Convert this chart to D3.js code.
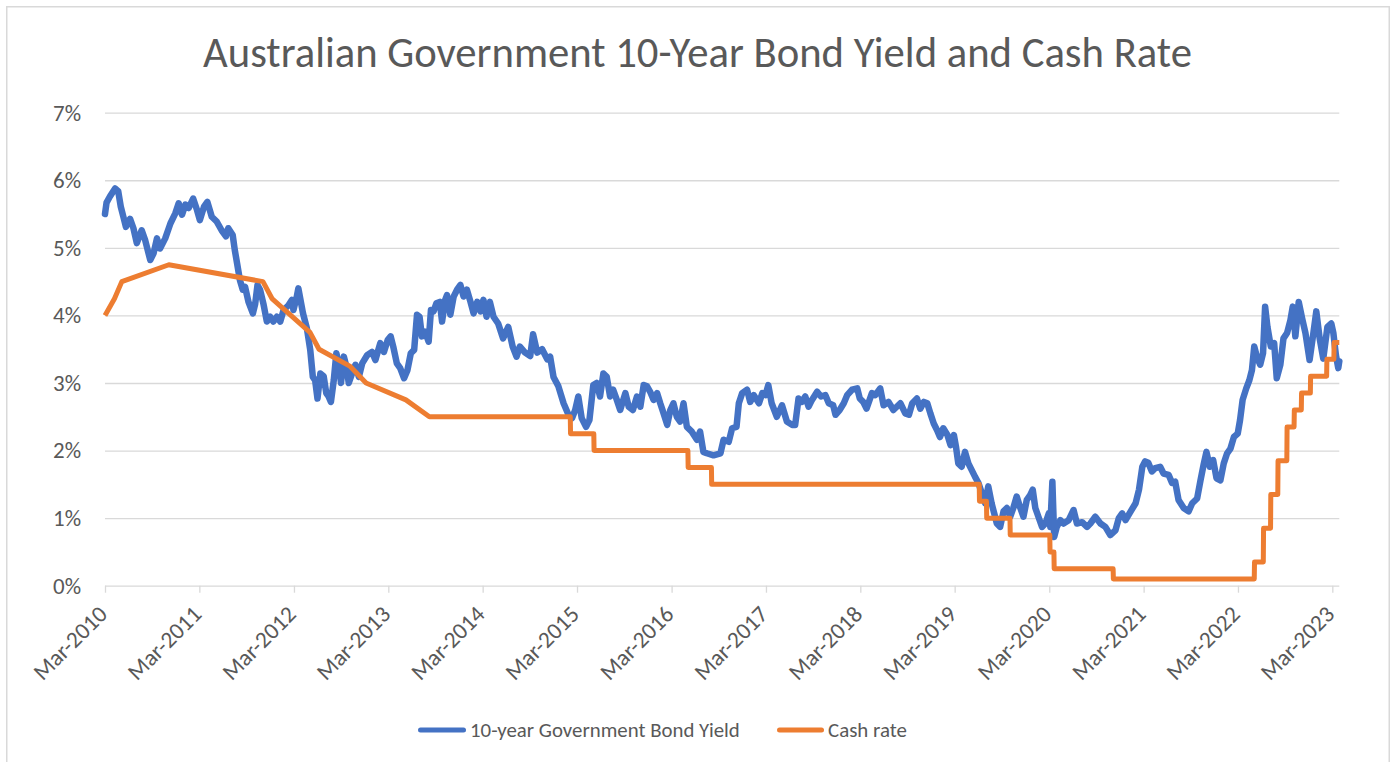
<!DOCTYPE html>
<html>
<head>
<meta charset="utf-8">
<script src="https://cdn.jsdelivr.net/npm/d3@7"></script>
<style>
  body { margin: 0; background: #fff; }
  svg { display: block; }
  text { font-family: Calibri, Carlito, Lato, "Open Sans", sans-serif; fill: #595959; }
</style>
</head>
<body>
<svg id="chart" width="1393" height="762"></svg>
<script>
// ---- data -------------------------------------------------------------
const chartTitle = "Australian Government 10-Year Bond Yield and Cash Rate";
const seriesNames = ["10-year Government Bond Yield", "Cash rate"];
const seriesColors = ["#4472C4", "#ED7D31"];

// 10-year government bond yield (%)
const bondDates = [
  "2010-03-01","2010-03-07","2010-03-20","2010-04-09","2010-04-21","2010-05-01","2010-05-11","2010-05-21","2010-06-06","2010-06-19",
  "2010-07-02","2010-07-21","2010-08-03","2010-08-23","2010-09-05","2010-09-18","2010-09-30","2010-10-20","2010-11-09","2010-11-28",
  "2010-12-11","2010-12-24","2011-01-06","2011-01-19","2011-02-05","2011-02-20","2011-03-03","2011-03-19","2011-04-01","2011-04-18",
  "2011-05-07","2011-05-26","2011-06-12","2011-06-21","2011-07-08","2011-07-16","2011-07-25","2011-08-05","2011-08-16","2011-08-25",
  "2011-09-07","2011-09-24","2011-10-03","2011-10-12","2011-10-22","2011-11-04","2011-11-17","2011-11-30","2011-12-12","2011-12-26",
  "2012-01-08","2012-01-21","2012-02-09","2012-02-22","2012-02-28","2012-03-12","2012-03-18","2012-04-05","2012-04-20","2012-05-03",
  "2012-05-13","2012-05-22","2012-05-31","2012-06-11","2012-06-24","2012-07-04","2012-07-13","2012-07-22","2012-08-02","2012-08-12",
  "2012-08-21","2012-08-30","2012-09-10","2012-09-20","2012-09-29","2012-10-12","2012-10-25","2012-11-07","2012-11-20","2012-12-09",
  "2012-12-28","2013-01-10","2013-01-29","2013-02-12","2013-02-27","2013-03-10","2013-03-20","2013-04-03","2013-04-16","2013-05-01",
  "2013-05-14","2013-05-27","2013-06-09","2013-06-20","2013-06-30","2013-07-09","2013-07-21","2013-08-04","2013-08-13","2013-08-23",
  "2013-09-03","2013-09-16","2013-09-25","2013-10-07","2013-10-14","2013-10-27","2013-11-09","2013-11-22","2013-12-05","2013-12-17",
  "2013-12-30","2014-01-13","2014-01-25","2014-02-08","2014-02-21","2014-03-04","2014-03-16","2014-03-29","2014-04-12","2014-04-30",
  "2014-05-19","2014-06-08","2014-06-25","2014-07-10","2014-07-23","2014-08-12","2014-09-01","2014-09-12","2014-09-28","2014-10-17",
  "2014-11-06","2014-11-17","2014-11-30","2014-12-19","2015-01-08","2015-01-27","2015-02-10","2015-02-22","2015-03-06","2015-03-19",
  "2015-04-05","2015-04-18","2015-05-03","2015-05-16","2015-05-29","2015-06-11","2015-06-24","2015-07-07","2015-07-19","2015-08-02",
  "2015-08-15","2015-09-04","2015-09-17","2015-10-03","2015-10-19","2015-11-01","2015-11-14","2015-11-27","2015-12-09","2015-12-22",
  "2016-01-05","2016-01-17","2016-01-30","2016-02-13","2016-02-25","2016-03-08","2016-03-21","2016-04-03","2016-04-16","2016-04-29",
  "2016-05-18","2016-06-07","2016-06-19","2016-07-02","2016-07-15","2016-08-10","2016-09-06","2016-09-18","2016-10-08","2016-10-21",
  "2016-11-07","2016-11-16","2016-11-29","2016-12-18","2016-12-30","2017-01-13","2017-02-02","2017-02-15","2017-02-27","2017-03-10",
  "2017-03-23","2017-04-12","2017-05-02","2017-05-21","2017-06-10","2017-06-22","2017-07-05","2017-07-18","2017-07-31","2017-08-13",
  "2017-08-26","2017-09-15","2017-09-30","2017-10-17","2017-10-30","2017-11-16","2017-11-25","2017-12-11","2017-12-27","2018-01-09",
  "2018-01-28","2018-02-17","2018-02-27","2018-03-12","2018-03-25","2018-04-15","2018-04-28","2018-05-17","2018-05-30","2018-06-18",
  "2018-07-07","2018-08-03","2018-08-22","2018-09-05","2018-09-18","2018-10-06","2018-10-19","2018-11-02","2018-11-15","2018-11-27",
  "2018-12-10","2018-12-23","2019-01-03","2019-01-16","2019-02-01","2019-02-13","2019-02-26","2019-03-06","2019-03-15","2019-03-28",
  "2019-04-10","2019-04-23","2019-05-06","2019-05-19","2019-06-01","2019-06-14","2019-06-27","2019-07-09","2019-07-22","2019-08-01",
  "2019-08-11","2019-08-24","2019-09-06","2019-09-19","2019-10-02","2019-10-14","2019-10-27","2019-11-10","2019-11-22","2019-12-05",
  "2019-12-18","2019-12-28","2020-01-07","2020-01-19","2020-02-02","2020-02-15","2020-02-28","2020-03-05","2020-03-13","2020-03-20",
  "2020-03-30","2020-04-13","2020-04-25","2020-05-15","2020-06-03","2020-06-16","2020-07-06","2020-07-25","2020-08-07","2020-08-26",
  "2020-09-15","2020-10-04","2020-10-23","2020-11-12","2020-11-25","2020-12-08","2020-12-21","2021-01-10","2021-01-29","2021-02-11",
  "2021-02-24","2021-03-07","2021-03-19","2021-04-02","2021-04-15","2021-05-04","2021-05-17","2021-06-06","2021-06-19","2021-07-01",
  "2021-07-14","2021-08-03","2021-08-22","2021-09-05","2021-09-24","2021-10-07","2021-10-19","2021-10-30","2021-11-12","2021-11-25",
  "2021-12-08","2021-12-23","2022-01-05","2022-01-18","2022-01-31","2022-02-13","2022-02-28","2022-03-09","2022-03-19","2022-04-02",
  "2022-04-14","2022-04-24","2022-05-03","2022-05-13","2022-05-26","2022-06-06","2022-06-14","2022-06-23","2022-07-06","2022-07-19",
  "2022-07-29","2022-08-12","2022-08-24","2022-09-07","2022-09-20","2022-09-29","2022-10-09","2022-10-22","2022-11-04","2022-11-17",
  "2022-12-03","2022-12-16","2022-12-29","2023-01-11","2023-01-25","2023-02-10","2023-02-25","2023-03-05","2023-03-15","2023-03-24",
  "2023-03-28"
];
const bondYields = [
  5.50,5.67,5.76,5.88,5.84,5.61,5.46,5.31,5.43,5.29,
  5.07,5.26,5.12,4.82,4.92,5.14,4.99,5.14,5.36,5.51,
  5.66,5.49,5.64,5.59,5.73,5.56,5.41,5.61,5.68,5.46,
  5.39,5.26,5.17,5.29,5.19,4.97,4.77,4.52,4.38,4.42,
  4.20,4.03,4.17,4.45,4.38,4.17,3.91,3.98,3.91,3.98,
  3.91,4.08,4.15,4.23,4.08,4.28,4.40,4.03,3.81,3.49,
  3.09,3.04,2.77,3.14,3.10,2.85,2.80,2.72,3.04,3.44,
  3.29,3.00,3.39,3.24,3.00,3.14,3.27,3.09,3.29,3.41,
  3.46,3.34,3.59,3.46,3.64,3.69,3.54,3.29,3.22,3.07,
  3.19,3.44,3.49,4.01,3.98,3.69,3.76,3.61,4.08,4.06,
  4.18,4.20,3.91,4.23,4.30,4.01,4.28,4.38,4.45,4.28,
  4.38,4.20,4.03,4.20,4.06,4.23,3.98,4.20,3.98,3.88,
  3.66,3.83,3.54,3.39,3.54,3.45,3.40,3.72,3.45,3.50,
  3.35,3.39,3.09,2.95,2.70,2.53,2.48,2.60,2.80,2.48,
  2.35,2.45,2.97,3.00,2.80,3.14,3.09,2.80,2.90,2.75,
  2.60,2.85,2.65,2.60,2.80,2.65,2.97,2.95,2.87,2.75,
  2.85,2.70,2.55,2.38,2.60,2.70,2.50,2.43,2.70,2.35,
  2.28,2.16,2.28,1.98,1.96,1.93,1.96,2.16,2.13,2.33,
  2.35,2.70,2.85,2.90,2.72,2.82,2.70,2.85,2.82,2.97,
  2.70,2.50,2.67,2.43,2.38,2.38,2.77,2.72,2.80,2.65,
  2.75,2.87,2.80,2.82,2.70,2.67,2.53,2.60,2.70,2.82,
  2.90,2.92,2.77,2.72,2.62,2.85,2.82,2.92,2.67,2.72,
  2.60,2.70,2.55,2.53,2.70,2.77,2.62,2.72,2.70,2.55,
  2.40,2.30,2.20,2.33,2.23,2.08,2.23,2.06,1.81,1.76,
  1.98,1.81,1.71,1.61,1.52,1.37,1.22,1.47,1.22,1.07,
  0.92,0.87,1.10,1.15,1.02,1.15,1.32,1.15,1.02,1.27,
  1.34,1.42,1.15,1.02,0.87,0.92,1.07,0.87,1.54,0.72,
  0.87,0.97,0.92,0.97,1.12,0.92,0.94,0.87,0.92,1.02,
  0.92,0.87,0.75,0.82,1.00,1.07,0.97,1.10,1.22,1.42,
  1.76,1.84,1.82,1.69,1.74,1.76,1.66,1.64,1.52,1.54,
  1.27,1.15,1.10,1.22,1.29,1.56,1.79,1.98,1.76,1.86,
  1.59,1.56,1.81,1.96,2.03,2.20,2.25,2.45,2.75,2.92,
  3.04,3.19,3.54,3.39,3.27,3.44,4.13,3.83,3.54,3.59,
  3.07,3.27,3.66,3.74,3.93,4.13,3.69,4.20,3.96,3.74,
  3.34,3.69,4.06,3.66,3.36,3.83,3.88,3.74,3.41,3.22,
  3.32
];

// RBA cash rate target (%); consecutive-day pairs mark each change
const cashDates = [
  "2010-03-01","2010-04-07","2010-05-05","2010-11-03","2011-11-02","2011-12-07","2012-05-02","2012-06-06",
  "2012-10-03","2012-12-05","2013-05-08","2013-08-07",
  "2015-02-03","2015-02-04","2015-05-05","2015-05-06","2016-05-03","2016-05-04","2016-08-02","2016-08-03",
  "2019-06-04","2019-06-05","2019-07-02","2019-07-03","2019-10-01","2019-10-02","2020-03-03","2020-03-04",
  "2020-03-19","2020-03-20","2020-11-03","2020-11-04","2022-05-03","2022-05-04","2022-06-07","2022-06-08",
  "2022-07-05","2022-07-06","2022-08-02","2022-08-03","2022-09-06","2022-09-07","2022-10-04","2022-10-05",
  "2022-11-01","2022-11-02","2022-12-06","2022-12-07","2023-02-07","2023-02-08","2023-03-07","2023-03-08",
  "2023-03-28"
];
const cashRates = [
  4.00,4.25,4.50,4.75,4.50,4.25,3.75,3.50,
  3.25,3.00,2.75,2.50,
  2.50,2.25,2.25,2.00,2.00,1.75,1.75,1.50,
  1.50,1.25,1.25,1.00,1.00,0.75,0.75,0.50,
  0.50,0.25,0.25,0.10,0.10,0.35,0.35,0.85,
  0.85,1.35,1.35,1.85,1.85,2.35,2.35,2.60,
  2.60,2.85,2.85,3.10,3.10,3.35,3.35,3.60,
  3.60
];

// axis ticks
const yTickValues = [0, 1, 2, 3, 4, 5, 6, 7];
const xTickYears = [2010, 2011, 2012, 2013, 2014, 2015, 2016, 2017, 2018, 2019, 2020, 2021, 2022, 2023];

// ---- layout -----------------------------------------------------------
const W = 1393, H = 762;
const plot = { left: 105, right: 1339.3, top: 112.7, bottom: 585.7 };
const parse = d3.timeParse("%Y-%m-%d");
const grey = "#D9D9D9", textGrey = "#595959";

const svg = d3.select("#chart");
svg.append("rect").attr("width", W).attr("height", H).attr("fill", "#fff");
// chart-area frame
svg.append("rect")
  .attr("x", 6.75).attr("y", 6.75).attr("width", 1382.5).attr("height", 820)
  .attr("fill", "none").attr("stroke", grey).attr("stroke-width", 1.5);

const x = d3.scaleTime()
  .domain([parse("2010-03-01"), parse("2023-03-28")])
  .range([plot.left, plot.right]);
const y = d3.scaleLinear().domain([0, 7]).range([plot.bottom, plot.top]);

function fitFont(sel, target, base) {
  sel.style("font-size", base + "px");
  const w = sel.node().getComputedTextLength();
  const size = base * target / w;
  sel.style("font-size", size + "px");
  return size;
}

// title
const title = svg.append("text")
  .attr("x", (203 + 1192) / 2).attr("y", 67)
  .attr("text-anchor", "middle")
  .style("fill", textGrey)
  .style("font-weight", 300)
  .text(chartTitle);
fitFont(title, 989, 36);

// y axis with gridlines
const yAxis = svg.append("g")
  .attr("transform", `translate(${plot.left},0)`)
  .call(d3.axisLeft(y)
    .tickValues(yTickValues)
    .tickFormat(d => d + "%")
    .tickSize(-(plot.right - plot.left))
    .tickPadding(24));
yAxis.select(".domain").remove();
yAxis.selectAll(".tick line").attr("stroke", grey).attr("stroke-width", 1.3);
const yLabels = yAxis.selectAll(".tick text").style("fill", textGrey);
const yLabelSize = fitFont(yLabels.filter(d => d === 7), 28, 20);
yLabels.style("font-size", yLabelSize + "px");

// x axis
const xTickDates = xTickYears.map(yr => new Date(yr, 2, 1));
const xAxis = svg.append("g")
  .attr("transform", `translate(0,${plot.bottom})`)
  .call(d3.axisBottom(x)
    .tickValues(xTickDates)
    .tickFormat(d3.timeFormat("%b-%Y"))
    .tickSize(7));
xAxis.select(".domain").remove();
xAxis.selectAll(".tick line").attr("stroke", grey).attr("stroke-width", 1.3);
const xLabels = xAxis.selectAll(".tick text")
  .attr("x", 0).attr("y", 0).attr("dy", 0)
  .attr("text-anchor", "end")
  .attr("transform", "translate(3,30) rotate(-45)")
  .style("fill", textGrey);
const xLabelSize = fitFont(xLabels.filter((d, i) => i === 0), 93, 20);
xLabels.style("font-size", xLabelSize + "px");
svg.selectAll("g").attr("font-family", null).attr("font-size", null);

// series
const bond = bondDates.map((d, i) => ({ date: parse(d), value: bondYields[i] }));
const cash = cashDates.map((d, i) => ({ date: parse(d), value: cashRates[i] }));
const line = d3.line().x(d => x(d.date)).y(d => y(d.value));

svg.append("path").datum(bond)
  .attr("d", line).attr("fill", "none")
  .attr("stroke", seriesColors[0]).attr("stroke-width", 6.5)
  .attr("stroke-linejoin", "round").attr("stroke-linecap", "round");
svg.append("path").datum(cash)
  .attr("d", line).attr("fill", "none")
  .attr("stroke", seriesColors[1]).attr("stroke-width", 5)
  .attr("stroke-linejoin", "round").attr("stroke-linecap", "butt");

// legend
const legendItems = [
  { name: seriesNames[0], color: seriesColors[0], x0: 420.5, x1: 463.5, tx: 470, w: 270 },
  { name: seriesNames[1], color: seriesColors[1], x0: 779.5, x1: 821.5, tx: 828, w: 79 }
];
const legend = svg.append("g");
legendItems.forEach(it => {
  legend.append("line")
    .attr("x1", it.x0).attr("x2", it.x1).attr("y1", 730).attr("y2", 730)
    .attr("stroke", it.color).attr("stroke-width", 5).attr("stroke-linecap", "round");
  const t = legend.append("text")
    .attr("x", it.tx).attr("y", 737)
    .style("fill", textGrey)
    .text(it.name);
  fitFont(t, it.w, 19);
});
</script>
</body>
</html>
